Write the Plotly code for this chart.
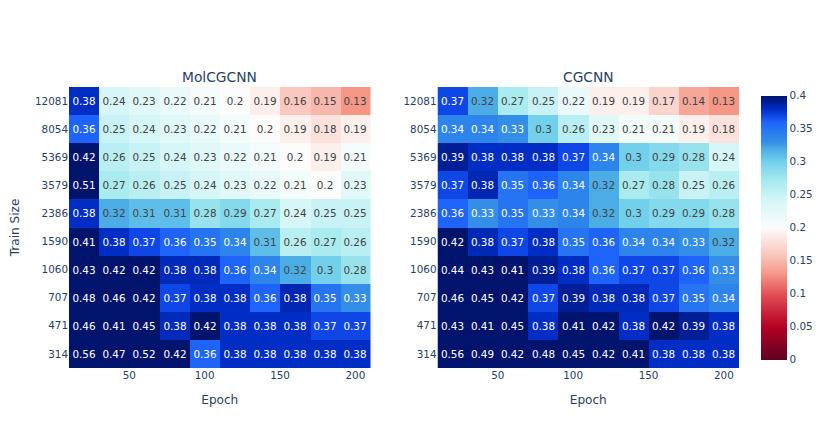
import plotly.graph_objects as go
from plotly.subplots import make_subplots

epochs = [20, 40, 60, 80, 100, 120, 140, 160, 180, 200]
train_sizes = ["314", "471", "707", "1060", "1590", "2386", "3579", "5369", "8054", "12081"]

# rows go bottom (314) to top (12081)
molcgcnn = [
    [0.56, 0.47, 0.52, 0.42, 0.36, 0.38, 0.38, 0.38, 0.38, 0.38],
    [0.46, 0.41, 0.45, 0.382, 0.42, 0.38, 0.38, 0.38, 0.37, 0.37],
    [0.48, 0.46, 0.42, 0.37, 0.38, 0.38, 0.36, 0.384, 0.35, 0.33],
    [0.43, 0.42, 0.42, 0.382, 0.382, 0.36, 0.34, 0.32, 0.3, 0.28],
    [0.41, 0.38, 0.37, 0.36, 0.35, 0.34, 0.31, 0.26, 0.27, 0.26],
    [0.38, 0.32, 0.31, 0.31, 0.28, 0.29, 0.27, 0.24, 0.25, 0.25],
    [0.51, 0.27, 0.26, 0.25, 0.24, 0.23, 0.22, 0.21, 0.2, 0.23],
    [0.42, 0.26, 0.25, 0.24, 0.23, 0.22, 0.21, 0.2, 0.19, 0.21],
    [0.36, 0.25, 0.24, 0.23, 0.22, 0.21, 0.2, 0.19, 0.18, 0.19],
    [0.38, 0.24, 0.23, 0.22, 0.21, 0.2, 0.19, 0.16, 0.15, 0.13],
]

cgcnn = [
    [0.56, 0.49, 0.42, 0.48, 0.45, 0.42, 0.41, 0.38, 0.38, 0.38],
    [0.43, 0.41, 0.45, 0.38, 0.41, 0.42, 0.38, 0.42, 0.39, 0.38],
    [0.46, 0.45, 0.42, 0.37, 0.39, 0.382, 0.382, 0.37, 0.35, 0.34],
    [0.44, 0.43, 0.41, 0.39, 0.38, 0.36, 0.37, 0.37, 0.36, 0.33],
    [0.42, 0.383, 0.37, 0.38, 0.35, 0.36, 0.34, 0.34, 0.33, 0.32],
    [0.36, 0.33, 0.35, 0.33, 0.34, 0.32, 0.3, 0.29, 0.29, 0.28],
    [0.37, 0.384, 0.35, 0.36, 0.34, 0.32, 0.27, 0.28, 0.25, 0.26],
    [0.39, 0.38, 0.38, 0.38, 0.37, 0.34, 0.3, 0.29, 0.28, 0.24],
    [0.34, 0.34, 0.33, 0.3, 0.26, 0.23, 0.21, 0.21, 0.19, 0.18],
    [0.37, 0.32, 0.27, 0.25, 0.22, 0.19, 0.19, 0.17, 0.14, 0.13],
]

colorscale = [
    [0.0, "rgb(95,0,35)"],
    [0.125, "rgb(180,0,35)"],
    [0.25, "rgb(225,80,85)"],
    [0.325, "rgb(245,150,135)"],
    [0.4, "rgb(250,200,190)"],
    [0.5, "rgb(252,252,252)"],
    [0.6, "rgb(215,246,247)"],
    [0.675, "rgb(170,235,240)"],
    [0.75, "rgb(115,208,235)"],
    [0.8, "rgb(75,172,230)"],
    [0.825, "rgb(52,142,232)"],
    [0.85, "rgb(45,132,235)"],
    [0.9, "rgb(30,100,250)"],
    [0.925, "rgb(15,70,230)"],
    [0.95, "rgb(0,45,195)"],
    [0.975, "rgb(0,30,150)"],
    [1.0, "rgb(0,20,110)"],
]


def labels(z):
    return [[f"{round(v, 2):g}" for v in row] for row in z]


fig = make_subplots(rows=1, cols=2, subplot_titles=("MolCGCNN", "CGCNN"),
                    horizontal_spacing=0.1)

fig.add_trace(go.Heatmap(x=epochs, y=train_sizes, z=molcgcnn, text=labels(molcgcnn),
                         texttemplate="%{text}", coloraxis="coloraxis"),
              row=1, col=1)
fig.add_trace(go.Heatmap(x=epochs, y=train_sizes, z=cgcnn, text=labels(cgcnn),
                         texttemplate="%{text}", coloraxis="coloraxis"),
              row=1, col=2)

fig.update_annotations(font_size=13.8)
fig.update_xaxes(title_text="Epoch", title_font_size=12.1, showgrid=False,
                 zeroline=False, automargin=False)
fig.update_yaxes(type="category", showgrid=False, zeroline=False, automargin=False)
fig.update_yaxes(title_text="Train Size", title_font_size=12.1, row=1, col=1)

# page body adds 8px, so margins are shifted to match
fig.update_layout(
    template="plotly_white",
    width=831, height=437,
    font=dict(family="DejaVu Sans", size=10.4),
    margin=dict(l=61, r=100, t=79, b=77),
    coloraxis=dict(
        colorscale=colorscale, cmin=0, cmax=0.4,
        colorbar=dict(thickness=26, xpad=8.6, ypad=8.6, tick0=0, dtick=0.05),
    ),
)

fig.write_html("out.html")
